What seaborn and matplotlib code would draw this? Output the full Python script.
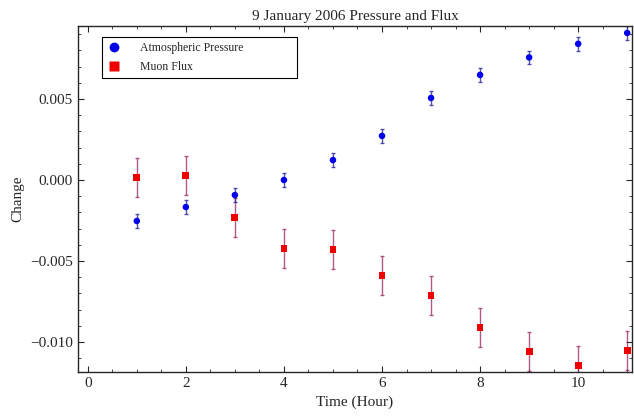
import numpy as np
import pandas as pd
import matplotlib
matplotlib.use('Agg')
import matplotlib.pyplot as plt
from matplotlib.ticker import MultipleLocator
import seaborn as sns

hours = [1, 2, 3, 4, 5, 6, 7, 8, 9, 10, 11]
pressure = [-0.00253, -0.00167, -0.00093, 0.0000, 0.00123, 0.00272, 0.00506, 0.00648, 0.00756, 0.0084, 0.00907]
pressure_err = [0.00042, 0.00042, 0.00042, 0.00042, 0.00042, 0.00042, 0.00042, 0.00042, 0.00042, 0.00042, 0.00042]
muon = [0.00017, 0.00029, -0.0023, -0.00422, -0.00428, -0.00588, -0.00712, -0.00909, -0.01057, -0.01144, -0.01051]
muon_err = [0.0012, 0.0012, 0.0012, 0.0012, 0.0012, 0.0012, 0.0012, 0.0012, 0.0012, 0.0012, 0.0012]

df = pd.DataFrame({'hour': hours + hours,
                   'change': pressure + muon,
                   'err': pressure_err + muon_err,
                   'series': ['Atmospheric Pressure'] * len(hours) + ['Muon Flux'] * len(hours)})

sns.set_style('ticks')
plt.rcParams['font.family'] = ['Liberation Serif', 'DejaVu Serif']
plt.rcParams['axes.unicode_minus'] = True

fig = plt.figure(figsize=(6.34, 4.19), dpi=100)
ax = fig.add_axes([0.123, 0.112, 0.874, 0.826])

# error bars first
ax.errorbar(hours, muon, yerr=muon_err, fmt='none', ecolor='#a0306a', elinewidth=1.0,
            capsize=1.5, capthick=1.0, alpha=0.8, zorder=2)
ax.errorbar(hours, pressure, yerr=pressure_err, fmt='none', ecolor='#2a2a9a', elinewidth=1.0,
            capsize=1.5, capthick=1.0, alpha=0.8, zorder=2)

sns.scatterplot(data=df, x='hour', y='change', hue='series', style='series',
                palette={'Atmospheric Pressure': '#0000ee', 'Muon Flux': '#ee0000'},
                markers={'Atmospheric Pressure': 'o', 'Muon Flux': 's'},
                size='series', sizes={'Atmospheric Pressure': 22, 'Muon Flux': 24},
                edgecolor='none', ax=ax, zorder=3)

ax.set_xlim(-0.2, 11.1)
ax.set_ylim(-0.01185, 0.0095)
ax.xaxis.set_major_locator(MultipleLocator(2))
ax.xaxis.set_minor_locator(MultipleLocator(0.5))
ax.yaxis.set_major_locator(MultipleLocator(0.005))
ax.yaxis.set_minor_locator(MultipleLocator(0.001))
ax.yaxis.set_major_formatter(plt.FuncFormatter(lambda v, p: ('%.3f' % v).replace('-', '\u2212') if abs(v) > 1e-12 else '0.000'))
ax.tick_params(which='both', direction='in', top=True, right=True, labelsize=11)
ax.tick_params(which='major', length=4, width=0.8)
ax.tick_params(which='minor', length=2, width=0.6)
for s in ax.spines.values():
    s.set_linewidth(1.0)

ax.set_title('9 January 2006 Pressure and Flux', fontsize=11, pad=4)
ax.set_xlabel('Time (Hour)', fontsize=11)
ax.set_ylabel('Change', fontsize=11)

handles, labels = ax.get_legend_handles_labels()
leg = ax.legend(handles, labels, loc='upper left', bbox_to_anchor=(0.043, 0.968, 0.352, 0.0),
                mode='expand', fontsize=8.5, frameon=True,
                fancybox=False, edgecolor='black', framealpha=1, markerscale=1.5,
                handlelength=1.2, handletextpad=1.6, borderpad=0.45, labelspacing=0.55,
                borderaxespad=0)
leg.get_frame().set_linewidth(0.8)

fig.savefig('out.png', dpi=100)
